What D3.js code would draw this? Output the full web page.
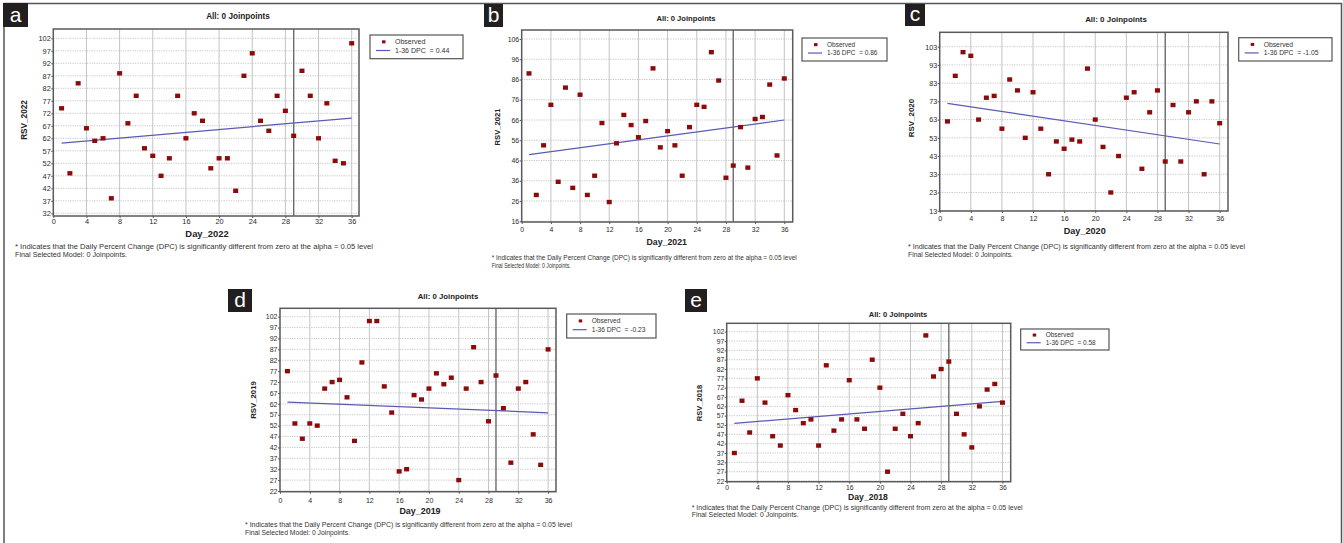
<!doctype html>
<html lang="en">
<head>
<meta charset="UTF-8">
<title>RSV Joinpoint panels</title>
<style>
  body { margin: 0; background: #fff; }
  svg text { font-family: "Liberation Sans", Arial, sans-serif; }
</style>
</head>
<body>
<svg id="fig" width="1343" height="543"></svg>

<script src="https://d3js.org/d3.v7.min.js"></script>
<script>
    // ---- data ----
    const days = [1, 2, 3, 4, 5, 6, 7, 8, 9, 10, 11, 12, 13, 14, 15, 16, 17, 18,
                  19, 20, 21, 22, 23, 24, 25, 26, 27, 28, 29, 30, 31, 32, 33, 34, 35, 36];
    const xTicks = [0, 4, 8, 12, 16, 20, 24, 28, 32, 36];

    const rsv2022 = [74, 48, 84, 66, 61, 62, 38, 88, 68, 79, 58, 55, 47, 54, 79, 62, 72, 69,
                     50, 54, 54, 41, 87, 96, 69, 65, 79, 73, 63, 89, 79, 62, 76, 53, 52, 100];
    const rsv2021 = [89, 29, 53.5, 73.5, 35.5, 82, 32.5, 78.5, 29, 38.5, 64.5, 25.5, 54.5, 68.5, 63.5, 57.5, 65.5, 91.5,
                     52.5, 60.5, 53.5, 38.5, 62.5, 73.5, 72.5, 99.5, 85.5, 37.5, 43.5, 62.5, 42.5, 66.5, 67.5, 83.5, 48.5, 86.5];
    const rsv2020 = [62, 87, 100, 98, 63, 75, 76, 58, 85, 79, 53, 78, 58, 33, 51, 47, 52, 51,
                     91, 63, 48, 23, 43, 75, 78, 36, 67, 79, 40, 71, 40, 67, 73, 33, 73, 61];
    const rsv2019 = [77, 53, 46, 53, 52, 69, 72, 73, 65, 45, 81, 100, 100, 70, 58, 31, 32, 66,
                     64, 69, 76, 71, 74, 27, 69, 88, 72, 54, 75, 60, 35, 69, 72, 48, 34, 87];
    const rsv2018 = [37, 65, 48, 77, 64, 46, 41, 68, 60, 53, 55, 41, 84, 49, 55, 76, 55, 50,
                     87, 72, 27, 50, 58, 46, 53, 100, 78, 82, 86, 58, 47, 40, 62, 71, 74, 64];

    // fitted trend: value at day 1 and day 36
    const trend2022 = [60.1, 70.1];
    const trend2021 = [48.9, 66.0];
    const trend2020 = [71.9, 49.6];
    const trend2019 = [62.8, 57.9];
    const trend2018 = [52.9, 64.7];
    const trendDays = [1, 36];

    const yearNames = ['2022', '2021', '2020', '2019', '2018'];
    const panelLetters = ['a', 'b', 'c', 'd', 'e'];
    const dpcValues = ['0.44', '0.86', '-1.05', '-0.23', '0.58'];
    const joinpointYear = 29;

    const yTicks2022 = [32, 37, 42, 47, 52, 57, 62, 67, 72, 77, 82, 87, 92, 97, 102];
    const yTicks2021 = [16, 26, 36, 46, 56, 66, 76, 86, 96, 106];
    const yTicks2020 = [13, 23, 33, 43, 53, 63, 73, 83, 93, 103];
    const yTicks2019 = [22, 27, 32, 37, 42, 47, 52, 57, 62, 67, 72, 77, 82, 87, 92, 97, 102];
    const yTicks2018 = [22, 27, 32, 37, 42, 47, 52, 57, 62, 67, 72, 77, 82, 87, 92, 97, 102];

    const series = [rsv2022, rsv2021, rsv2020, rsv2019, rsv2018];
    const trends = [trend2022, trend2021, trend2020, trend2019, trend2018];
    const yTicksAll = [yTicks2022, yTicks2021, yTicks2020, yTicks2019, yTicks2018];

    const footLine1 = '* Indicates that the Daily Percent Change (DPC) is significantly different from zero at the alpha = 0.05 level';
    const footLine2 = 'Final Selected Model: 0 Joinpoints.';

    // ---- layout of each panel (pixels) ----
    const layout = [
        { plot: [53.3, 359, 29, 216], yDom: [30.92, 105.72], xMax: 36.88, k: 1,
          title: [238, 19], xlab: 224, xTitle: [207, 236.5], yTitle: [24, 120],
          foot: [15, 249, 256.5, 358, 112], legend: [370, 35, 463, 58.7], tag: [3, 3, 25, 24] },
        { plot: [521.7, 792.7, 30, 222], yDom: [15.65, 110.44], xMax: 37.15, k: 0.93,
          title: [686, 21], xlab: 232, xTitle: [666.7, 244.5], yTitle: [496.7, 127],
          foot: [491.7, 260, 267.5, 305, 79], legend: [802, 38, 887, 61], tag: [484, 4, 19, 23] },
        { plot: [939.7, 1228, 32.3, 211], yDom: [12.84, 110.9], xMax: 37.07, k: 0.97,
          title: [1116, 22], xlab: 221, xTitle: [1084.7, 233.5], yTitle: [911, 118],
          foot: [908, 249, 256.5, 337, 105], legend: [1238.7, 37.7, 1332, 61], tag: [905, 4, 20, 22] },
        { plot: [280, 556, 308.3, 491.7], yDom: [21.68, 105.85], xMax: 37.06, k: 0.95,
          title: [448, 299], xlab: 503, xTitle: [420, 514], yTitle: [252.7, 400],
          foot: [245, 527, 534.5, 327, 105], legend: [566.7, 314, 656, 338], tag: [228, 289, 24, 23] },
        { plot: [726.7, 1010.7, 323.3, 481.7], yDom: [21.63, 106.5], xMax: 37.08, k: 0.92,
          title: [898, 317], xlab: 489.5, xTitle: [868, 500], yTitle: [699, 403],
          foot: [691.7, 510, 517, 331, 107], legend: [1020.7, 329, 1109, 350], tag: [685, 289, 22, 23] }
    ];

    const svg = d3.select('#fig');

    // outer frame
    svg.append('path')
        .attr('d', 'M4,543 V3.5 H1341.5 V543')
        .attr('fill', 'none')
        .attr('stroke', '#555')
        .attr('stroke-width', 1.5);

    layout.forEach((L, i) => {
        const [l, r, t, b] = L.plot;
        const k = L.k;
        const g = svg.append('g');

        const x = d3.scaleLinear().domain([0, L.xMax]).range([l, r]);
        const y = d3.scaleLinear().domain(L.yDom).range([b, t]);

        // grid
        g.selectAll('.hgrid').data(yTicksAll[i]).enter()
            .append('line')
            .attr('x1', l).attr('x2', r)
            .attr('y1', d => y(d)).attr('y2', d => y(d))
            .attr('stroke', '#b8b8b8')
            .attr('stroke-width', 0.8)
            .attr('stroke-dasharray', '1.2,1.2');

        g.selectAll('.vgrid').data(xTicks.slice(1)).enter()
            .append('line')
            .attr('x1', d => x(d)).attr('x2', d => x(d))
            .attr('y1', t).attr('y2', b)
            .attr('stroke', '#c4c4c4')
            .attr('stroke-width', 1);

        // joinpoint marker line
        g.append('line')
            .attr('x1', x(joinpointYear)).attr('x2', x(joinpointYear))
            .attr('y1', t).attr('y2', b)
            .attr('stroke', '#6a6a6a')
            .attr('stroke-width', 1.4);

        // axes
        const yAxis = d3.axisLeft(y).tickValues(yTicksAll[i]).tickSize(2).tickSizeOuter(0);
        const xAxis = d3.axisBottom(x).tickValues(xTicks).tickSize(2).tickSizeOuter(0);

        const ya = g.append('g').attr('transform', `translate(${l},0)`).call(yAxis);
        ya.select('.domain').remove();
        ya.selectAll('line').attr('stroke', '#555');
        ya.selectAll('text')
            .attr('x', -2.5)
            .attr('font-size', 7.4 * k)
            .attr('fill', '#2a2a2a')
            .attr('font-family', '"Liberation Sans", Arial, sans-serif');

        const xa = g.append('g').attr('transform', `translate(0,${b})`).call(xAxis);
        xa.select('.domain').remove();
        xa.selectAll('line').attr('stroke', '#555');
        xa.selectAll('text')
            .attr('y', null).attr('dy', null)
            .attr('transform', `translate(0,${L.xlab - b})`)
            .attr('font-size', 7.4 * k)
            .attr('fill', '#2a2a2a')
            .attr('font-family', '"Liberation Sans", Arial, sans-serif');

        // trend line
        g.append('path')
            .datum(trendDays.map((d, j) => [d, trends[i][j]]))
            .attr('d', d3.line().x(d => x(d[0])).y(d => y(d[1])))
            .attr('fill', 'none')
            .attr('stroke', '#5a5ab4')
            .attr('stroke-width', 1.2);

        // observed points
        g.selectAll('.pt').data(series[i]).enter()
            .append('rect')
            .attr('x', (d, j) => x(days[j]) - 2.5)
            .attr('y', d => y(d) - 2.2)
            .attr('width', 5)
            .attr('height', 4.4)
            .attr('fill', '#8b0a0a');

        // plot frame
        g.append('rect')
            .attr('x', l).attr('y', t)
            .attr('width', r - l).attr('height', b - t)
            .attr('fill', 'none')
            .attr('stroke', '#5a5a5a')
            .attr('stroke-width', 1.5);

        // titles
        g.append('text')
            .attr('x', L.title[0]).attr('y', L.title[1])
            .attr('text-anchor', 'middle')
            .attr('font-size', 8.2 * k)
            .attr('font-weight', 'bold')
            .attr('fill', '#222')
            .text('All: 0 Joinpoints');

        g.append('text')
            .attr('x', L.xTitle[0]).attr('y', L.xTitle[1])
            .attr('text-anchor', 'middle')
            .attr('font-size', 9.4 * k)
            .attr('font-weight', 'bold')
            .attr('fill', '#222')
            .text('Day_' + yearNames[i]);

        g.append('text')
            .attr('transform', `translate(${L.yTitle[0] + 3},${L.yTitle[1]}) rotate(-90)`)
            .attr('text-anchor', 'middle')
            .attr('font-size', 8.2 * k)
            .attr('font-weight', 'bold')
            .attr('fill', '#222')
            .text('RSV_' + yearNames[i]);

        // footnote
        g.append('text')
            .attr('x', L.foot[0]).attr('y', L.foot[1])
            .attr('font-size', 7 * k)
            .attr('fill', '#333')
            .attr('textLength', L.foot[3])
            .attr('lengthAdjust', 'spacingAndGlyphs')
            .text(footLine1);
        g.append('text')
            .attr('x', L.foot[0]).attr('y', L.foot[2])
            .attr('font-size', 7 * k)
            .attr('fill', '#333')
            .attr('textLength', L.foot[4])
            .attr('lengthAdjust', 'spacingAndGlyphs')
            .text(footLine2);

        // legend
        const [lx0, ly0, lx1, ly1] = L.legend;
        const lg = g.append('g');
        lg.append('rect')
            .attr('x', lx0).attr('y', ly0)
            .attr('width', lx1 - lx0).attr('height', ly1 - ly0)
            .attr('fill', '#fff')
            .attr('stroke', '#555')
            .attr('stroke-width', 1.2);
        const rowH = (ly1 - ly0) / 2.6;
        lg.append('rect')
            .attr('x', lx0 + 12).attr('y', ly0 + rowH * 0.75 - 1.5)
            .attr('width', 3.5).attr('height', 3)
            .attr('fill', '#8b0a0a');
        lg.append('line')
            .attr('x1', lx0 + 6).attr('x2', lx0 + 20)
            .attr('y1', ly0 + rowH * 1.7).attr('y2', ly0 + rowH * 1.7)
            .attr('stroke', '#5a5ab4')
            .attr('stroke-width', 1.2);
        lg.append('text')
            .attr('x', lx0 + 25).attr('y', ly0 + rowH * 0.75 + 2.4)
            .attr('font-size', 7 * k)
            .attr('fill', '#333')
            .text('Observed');
        lg.append('text')
            .attr('x', lx0 + 25).attr('y', ly0 + rowH * 1.7 + 2.4)
            .attr('font-size', 7 * k)
            .attr('fill', '#333')
            .attr('xml:space', 'preserve')
            .text('1-36 DPC  = ' + dpcValues[i]);

        // panel letter tag
        const [tx, ty, tw, th] = L.tag;
        g.append('rect')
            .attr('x', tx).attr('y', ty)
            .attr('width', tw).attr('height', th)
            .attr('fill', '#231f20');
        g.append('text')
            .attr('x', tx + tw / 2).attr('y', ty + th * 0.78)
            .attr('text-anchor', 'middle')
            .attr('font-size', 21)
            .attr('fill', '#fff')
            .text(panelLetters[i]);
    });
</script>
</body>
</html>
